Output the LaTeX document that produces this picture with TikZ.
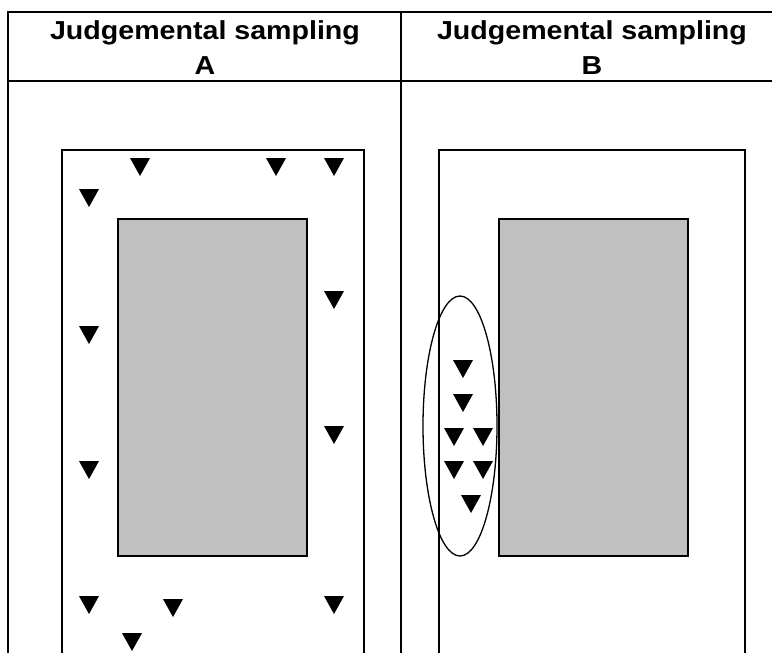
\documentclass[tikz,border=0pt]{standalone}
\usepackage{fontspec}
\setmainfont{Liberation Sans}
\newfontfamily\headfont[FakeStretch=1.1]{Liberation Sans}
\definecolor{areagray}{RGB}{192,192,192}
\begin{document}
\begin{tikzpicture}[x=1pt, y=-1pt]
    \useasboundingbox (0,0) rectangle (772,653);
    \clip (0,0) rectangle (772,653);
    % Draw table
    \coordinate (tl) at (8, 12);
    \coordinate (tr) at (780, 12);
    \coordinate (hl) at (8, 81);
    \coordinate (hr) at (780, 81);
    \coordinate (bl) at (8, 660);
    \coordinate (br) at (780, 660);
    \coordinate (mt) at (401, 12);
    \coordinate (mb) at (401, 660);
    \draw [line width=2pt] (bl) -- (tl) -- (tr) -- (br);
    \draw [line width=2pt] (hl) -- (hr);
    \draw [line width=2pt] (mt) -- (mb);
    \node [anchor=base, font=\headfont\bfseries\fontsize{26}{30}\selectfont] (lha) at (205, 39) {Judgemental sampling};
    \node [anchor=base, font=\headfont\bfseries\fontsize{26}{30}\selectfont] (lhaa) at (205, 74) {A};
    \node [anchor=base, font=\headfont\bfseries\fontsize{26}{30}\selectfont] (lhb) at (592, 39) {Judgemental sampling};
    \node [anchor=base, font=\headfont\bfseries\fontsize{26}{30}\selectfont] (lhbb) at (592, 74) {B};

    % Site A
    \draw [line width=2pt] (62, 660) -- (62, 150) -- (364, 150) -- (364, 660);
    \draw [line width=2pt, fill=areagray] (118, 219) rectangle (307, 556);
    \foreach \p/\q in {140/167, 276/167, 334/167, 89/198, 334/300, 89/335,
                       334/435, 89/470, 89/605, 173/608, 334/605, 132/642}
        \fill (\p-10, \q-9) -- (\p+10, \q-9) -- (\p, \q+9) -- cycle;

    % Site B
    \draw [line width=2pt] (439, 660) -- (439, 150) -- (745, 150) -- (745, 660);
    \draw [line width=2pt, fill=areagray] (499, 219) rectangle (688, 556);
    \coordinate (ec) at (460, 426);
    \draw [line width=1.3pt] (ec) ellipse (37 and 130);
    \foreach \p/\q in {463/369, 463/403, 454/437, 483/437, 454/470, 483/470, 471/504}
        \fill (\p-10, \q-9) -- (\p+10, \q-9) -- (\p, \q+9) -- cycle;
\end{tikzpicture}
\end{document}
